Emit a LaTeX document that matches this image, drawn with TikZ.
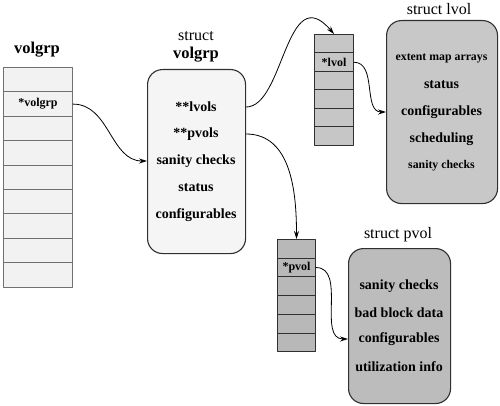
\documentclass[tikz,border=0pt]{standalone}
\usepackage{fontspec}
\setmainfont{Liberation Serif}
\usepackage{tikz}
\usetikzlibrary{arrows.meta}
\definecolor{paleA}{HTML}{F2F2F2}
\definecolor{paleB}{HTML}{F5F5F5}
\definecolor{lvgray}{HTML}{C6C6C6}
\definecolor{lvbox}{HTML}{C8C8C8}
\definecolor{pvgray}{HTML}{B8B8B8}
\definecolor{pvbox}{HTML}{BCBCBC}
\definecolor{edgeL}{HTML}{707070}
\definecolor{edgeD}{HTML}{303030}
\tikzset{
  every picture/.style={line join=round, line cap=round, >={Stealth[length=8pt,width=5pt]}},
  cell/.style={draw=edgeD, line width=1pt, inner sep=0pt, anchor=north west},
  vgcell/.style={cell, draw=edgeL, fill=paleA, minimum width=69pt, minimum height=24.4pt},
  lvcell/.style={cell, fill=lvgray, minimum width=39pt, minimum height=18.5pt},
  pvcell/.style={cell, fill=pvgray, minimum width=38pt, minimum height=18.7pt},
  sbox/.style={draw=edgeD, line width=1.1pt, rounded corners=15pt, inner sep=0pt, anchor=north west},
  item/.style={font=\fontsize{14}{16}\selectfont\bfseries},
  small item/.style={font=\fontsize{11.8}{14}\selectfont\bfseries},
  ptr/.style={font=\fontsize{12}{14}\selectfont\bfseries},
  title/.style={font=\fontsize{16.5}{18}\selectfont\bfseries},
  stitle/.style={font=\fontsize{16}{18}\selectfont},
  link/.style={->, line width=0.8pt},
}
\begin{document}
\begin{tikzpicture}[x=1pt,y=-1pt]
\useasboundingbox (0,0) rectangle (500,406);
% pointer array of volume groups
\node[title] (vgname) at (37,50) {volgrp};
\foreach \i in {0,...,8} \node[vgcell] (vg\i) at (3,67+24.4*\i) {};
\node[ptr] (vgptr) at (vg1.center) {*volgrp};
% struct volgrp
\node[stitle] (vgs) at (196,36) {struct};
\node[title] (vgt) at (196,55) {volgrp};
\node[sbox, fill=paleB, minimum width=98pt, minimum height=184pt] (vgbox) at (147,69) {};
\node[item] (lvols) at (196,107) {**lvols};
\node[item] (pvols) at (196,134) {**pvols};
\node[item] (vgsan) at (196,161) {sanity checks};
\node[item] (vgstat) at (196,188) {status};
\node[item] (vgconf) at (196,215) {configurables};
% lvol pointers and struct lvol
\foreach \i in {0,...,5} \node[lvcell] (lv\i) at (314,34+18.5*\i) {};
\node[ptr] (lvptr) at (lv1.center) {*lvol};
\node[stitle] (lvt) at (439,9) {struct lvol};
\node[sbox, fill=lvbox, minimum width=111pt, minimum height=183pt] (lvbox) at (386,20) {};
\node[small item] (lvext) at (441.5,58) {extent map arrays};
\node[item] (lvstat) at (441.5,85) {status};
\node[item] (lvconf) at (441.5,112) {configurables};
\node[item] (lvsched) at (441.5,139) {scheduling};
\node[small item] (lvsan) at (441.5,166) {sanity checks};
% pvol pointers and struct pvol
\foreach \i in {0,...,5} \node[pvcell] (pv\i) at (277,239+18.7*\i) {};
\node[ptr] (pvptr) at (pv1.center) {*pvol};
\node[stitle] (pvt) at (398,235) {struct pvol};
\node[sbox, fill=pvbox, minimum width=102pt, minimum height=155pt] (pvbox) at (348,248) {};
\node[item] (pvsan) at (399,286) {sanity checks};
\node[item] (pvbad) at (399,313) {bad block data};
\node[item] (pvconf) at (399,339) {configurables};
\node[item] (pvutil) at (399,367) {utilization info};
% pointers
\draw[link] (vg1.east) to[out=0,in=180] (vgsan -| vgbox.west);
\draw[link] (lvols -| vgbox.east) .. controls +(38,0) and +(-48,-56) .. (lv0.north);
\draw[link] (pvols -| vgbox.east) to[out=0,in=90] (pv0.north);
\draw[link] (lv1.east) to[out=0,in=180] (lvconf -| lvbox.west);
\draw[link] (pv1.east) to[out=0,in=180] (pvconf -| pvbox.west);
\end{tikzpicture}
\end{document}
